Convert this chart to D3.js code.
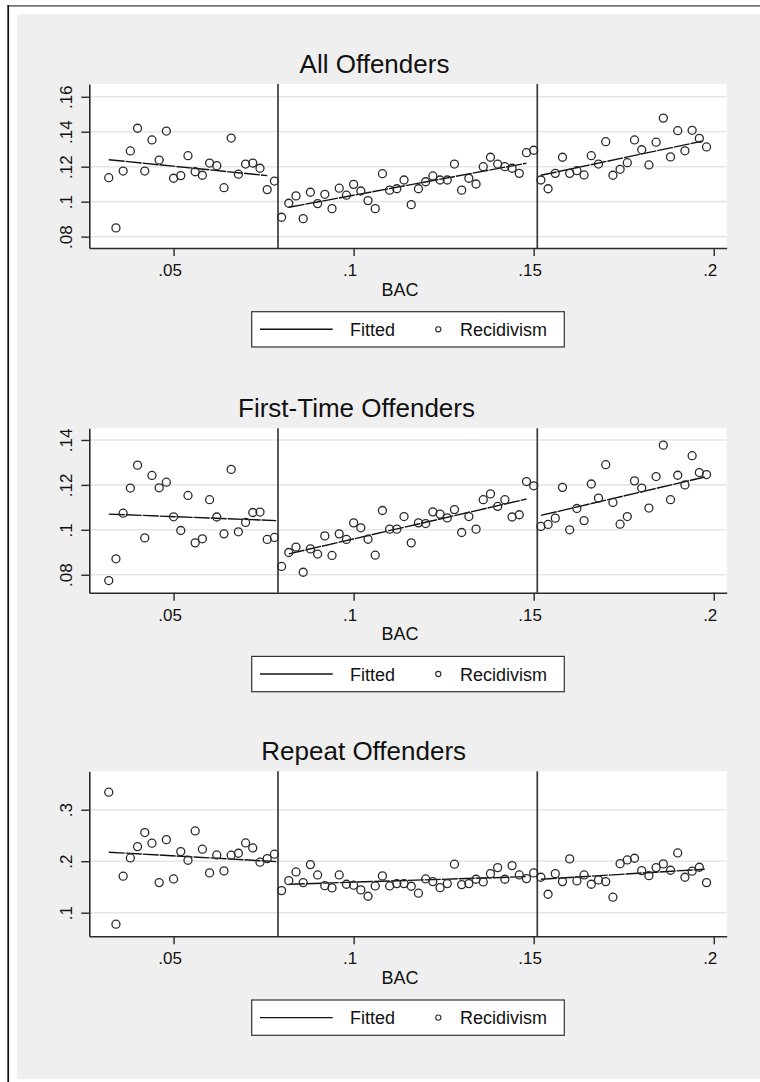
<!DOCTYPE html>
<html>
<head>
<meta charset="utf-8">
<script src="https://cdn.jsdelivr.net/npm/d3@7"></script>
<style>
  html, body { margin: 0; padding: 0; background: #ffffff; }
  svg { display: block; font-family: "Liberation Sans", Arial, Helvetica, sans-serif; }
</style>
</head>
<body>
<svg id="chart" width="760" height="1082"></svg>
<script>
// BAC bins (0.002 wide) shared by all three panels
const bac = [
  0.032, 0.034, 0.036, 0.038, 0.040, 0.042, 0.044, 0.046, 0.048, 0.050, 0.052, 0.054,
  0.056, 0.058, 0.060, 0.062, 0.064, 0.066, 0.068, 0.070, 0.072, 0.074, 0.076, 0.078,
  0.080, 0.082, 0.084, 0.086, 0.088, 0.090, 0.092, 0.094, 0.096, 0.098, 0.100, 0.102,
  0.104, 0.106, 0.108, 0.110, 0.112, 0.114, 0.116, 0.118, 0.120, 0.122, 0.124, 0.126,
  0.128, 0.130, 0.132, 0.134, 0.136, 0.138, 0.140, 0.142, 0.144, 0.146, 0.148, 0.150,
  0.152, 0.154, 0.156, 0.158, 0.160, 0.162, 0.164, 0.166, 0.168, 0.170, 0.172, 0.174,
  0.176, 0.178, 0.180, 0.182, 0.184, 0.186, 0.188, 0.190, 0.192, 0.194, 0.196, 0.198
];

const panelTitles = ["All Offenders", "First-Time Offenders", "Repeat Offenders"];

// Recidivism rate by BAC bin
const recidAll = [
  0.1137, 0.0850, 0.1175, 0.1290, 0.1420, 0.1175, 0.1353, 0.1238, 0.1404, 0.1134, 0.1149, 0.1263,
  0.1171, 0.1151, 0.1221, 0.1206, 0.1080, 0.1364, 0.1157, 0.1215, 0.1221, 0.1191, 0.1069, 0.1118,
  0.0911, 0.0991, 0.1033, 0.0903, 0.1054, 0.0989, 0.1042, 0.0960, 0.1077, 0.1037, 0.1099, 0.1061,
  0.1006, 0.0960, 0.1160, 0.1066, 0.1074, 0.1124, 0.0983, 0.1074, 0.1114, 0.1147, 0.1124, 0.1124,
  0.1215, 0.1066, 0.1134, 0.1101, 0.1200, 0.1254, 0.1215, 0.1200, 0.1191, 0.1162, 0.1280, 0.1294,
  0.1124, 0.1074, 0.1162, 0.1254, 0.1162, 0.1177, 0.1153, 0.1263, 0.1215, 0.1343, 0.1151, 0.1185,
  0.1223, 0.1353, 0.1297, 0.1210, 0.1340, 0.1478, 0.1256, 0.1406, 0.1291, 0.1408, 0.1362, 0.1313
];

const recidFirst = [
  0.0774, 0.0871, 0.1074, 0.1186, 0.1288, 0.0964, 0.1242, 0.1187, 0.1212, 0.1058, 0.0997, 0.1153,
  0.0942, 0.0960, 0.1134, 0.1057, 0.0982, 0.1269, 0.0991, 0.1033, 0.1077, 0.1079, 0.0957, 0.0966,
  0.0837, 0.0899, 0.0923, 0.0811, 0.0915, 0.0892, 0.0973, 0.0886, 0.0982, 0.0957, 0.1031, 0.1009,
  0.0958, 0.0887, 0.1086, 0.1003, 0.1003, 0.1059, 0.0942, 0.1031, 0.1028, 0.1080, 0.1070, 0.1053,
  0.1090, 0.0988, 0.1059, 0.1003, 0.1134, 0.1160, 0.1104, 0.1134, 0.1057, 0.1067, 0.1215, 0.1196,
  0.1015, 0.1024, 0.1052, 0.1189, 0.1000, 0.1095, 0.1041, 0.1204, 0.1141, 0.1290, 0.1122, 0.1025,
  0.1059, 0.1218, 0.1186, 0.1097, 0.1237, 0.1377, 0.1134, 0.1243, 0.1200, 0.1330, 0.1255, 0.1246
];

const recidRepeat = [
  0.3340, 0.0777, 0.1709, 0.2064, 0.2284, 0.2556, 0.2350, 0.1585, 0.2419, 0.1656, 0.2187, 0.2019,
  0.2588, 0.2233, 0.1773, 0.2122, 0.1812, 0.2117, 0.2155, 0.2355, 0.2258, 0.1981, 0.2050, 0.2136,
  0.1429, 0.1623, 0.1792, 0.1585, 0.1934, 0.1734, 0.1526, 0.1482, 0.1734, 0.1553, 0.1534, 0.1443,
  0.1320, 0.1520, 0.1715, 0.1520, 0.1565, 0.1565, 0.1514, 0.1379, 0.1656, 0.1604, 0.1487, 0.1565,
  0.1942, 0.1546, 0.1565, 0.1650, 0.1598, 0.1759, 0.1876, 0.1650, 0.1915, 0.1734, 0.1662, 0.1773,
  0.1689, 0.1359, 0.1759, 0.1604, 0.2045, 0.1617, 0.1734, 0.1553, 0.1637, 0.1604, 0.1301, 0.1953,
  0.2025, 0.2058, 0.1817, 0.1720, 0.1876, 0.1948, 0.1825, 0.2161, 0.1689, 0.1806, 0.1883, 0.1585
];

// Fitted lines: [bac start, fitted start, bac end, fitted end] per segment
const fitAll = [
  [0.032, 0.1240, 0.076, 0.1149],
  [0.082, 0.0968, 0.148, 0.1220],
  [0.152, 0.1151, 0.197, 0.1347]
];
const fitFirst = [
  [0.032, 0.1070, 0.0785, 0.1041],
  [0.082, 0.0893, 0.148, 0.1137],
  [0.152, 0.1064, 0.1975, 0.1235]
];
const fitRepeat = [
  [0.032, 0.2175, 0.0785, 0.1993],
  [0.082, 0.1553, 0.148, 0.1701],
  [0.152, 0.1650, 0.1975, 0.1845]
];

// BAC thresholds marked with vertical lines
const cutoffs = [0.079, 0.151];

// Axis ticks and labels
const xTicks = [0.05, 0.10, 0.15, 0.20];
const xTickLabels = [".05", ".1", ".15", ".2"];
const yTicksAll = [0.08, 0.10, 0.12, 0.14, 0.16];
const yTickLabelsAll = [".08", ".1", ".12", ".14", ".16"];
const yTicksFirst = [0.08, 0.10, 0.12, 0.14];
const yTickLabelsFirst = [".08", ".1", ".12", ".14"];
const yTicksRepeat = [0.1, 0.2, 0.3];
const yTickLabelsRepeat = [".1", ".2", ".3"];

const xDomain = [0.0266, 0.2036];
const yDomainAll = [0.0735, 0.1673];
const yDomainFirst = [0.0720, 0.1452];
const yDomainRepeat = [0.0542, 0.3746];

const xLabel = "BAC";
const legendLabels = ["Fitted", "Recidivism"];

// ---- layout ----
const plotLeft = 89.3, plotRight = 726.7;
const panels = [
  { title: panelTitles[0], values: recidAll, fits: fitAll, yDomain: yDomainAll,
    yTicks: yTicksAll, yTickLabels: yTickLabelsAll, top: 84, bottom: 248, titleX: 374.5 },
  { title: panelTitles[1], values: recidFirst, fits: fitFirst, yDomain: yDomainFirst,
    yTicks: yTicksFirst, yTickLabels: yTickLabelsFirst, top: 428.3, bottom: 592.7, titleX: 356.5 },
  { title: panelTitles[2], values: recidRepeat, fits: fitRepeat, yDomain: yDomainRepeat,
    yTicks: yTicksRepeat, yTickLabels: yTickLabelsRepeat, top: 771.3, bottom: 936.3, titleX: 363.7 }
];

const ink = "#2a2a2a";
const svg = d3.select("#chart");

// outer frame and graph background
svg.append("rect").attr("x", 17).attr("y", 14).attr("width", 743).attr("height", 1065)
  .attr("fill", "#efefef");
svg.append("line").attr("x1", 7.5).attr("x2", 760).attr("y1", 5.8).attr("y2", 5.8)
  .attr("stroke", "#777").attr("stroke-width", 1.7);
svg.append("line").attr("x1", 8.2).attr("x2", 8.2).attr("y1", 5).attr("y2", 1082)
  .attr("stroke", "#111").attr("stroke-width", 1.7);

const x = d3.scaleLinear().domain(xDomain).range([plotLeft, plotRight]);

panels.forEach(p => {
  const y = d3.scaleLinear().domain(p.yDomain).range([p.bottom, p.top]);
  const g = svg.append("g");

  // plot region
  g.append("rect").attr("x", plotLeft).attr("y", p.top)
    .attr("width", plotRight - plotLeft).attr("height", p.bottom - p.top)
    .attr("fill", "#ffffff");

  // horizontal grid
  g.selectAll("line.grid").data(p.yTicks).join("line")
    .attr("class", "grid")
    .attr("x1", plotLeft).attr("x2", plotRight)
    .attr("y1", d => y(d)).attr("y2", d => y(d))
    .attr("stroke", "#e6e6e6").attr("stroke-width", 1.6);

  // threshold lines
  g.selectAll("line.cut").data(cutoffs).join("line")
    .attr("class", "cut")
    .attr("x1", d => x(d)).attr("x2", d => x(d))
    .attr("y1", p.top).attr("y2", p.bottom)
    .attr("stroke", "#3a3a3a").attr("stroke-width", 1.7);

  // fitted segments
  const line = d3.line().x(d => x(d[0])).y(d => y(d[1]));
  g.selectAll("path.fit").data(p.fits).join("path")
    .attr("class", "fit")
    .attr("d", f => line([[f[0], f[1]], [f[2], f[3]]]))
    .attr("fill", "none").attr("stroke", "#111")
    .attr("stroke-width", 1.4).attr("stroke-dasharray", "16,1");

  // binned recidivism markers
  g.selectAll("circle.pt").data(p.values).join("circle")
    .attr("class", "pt")
    .attr("cx", (d, i) => x(bac[i])).attr("cy", d => y(d))
    .attr("r", 4.0).attr("fill", "none")
    .attr("stroke", ink).attr("stroke-width", 1.3);

  // x axis
  const xAxis = d3.axisBottom(x).tickValues(xTicks)
    .tickFormat((d, i) => xTickLabels[i]).tickSize(8).tickSizeOuter(0);
  const gx = g.append("g").attr("transform", `translate(0,${p.bottom})`).call(xAxis);
  gx.select(".domain").attr("stroke", ink).attr("stroke-width", 1.6);
  gx.selectAll(".tick line").attr("stroke", ink).attr("stroke-width", 1.4);
  gx.selectAll(".tick text")
    .attr("y", 28.2).attr("dy", null).attr("x", -4)
    .attr("fill", "#111").attr("font-size", 17)
    .attr("font-family", "Liberation Sans, Arial, sans-serif");

  // y axis
  const yAxis = d3.axisLeft(y).tickValues(p.yTicks)
    .tickFormat((d, i) => p.yTickLabels[i]).tickSize(8).tickSizeOuter(0);
  const gy = g.append("g").attr("transform", `translate(${plotLeft},0)`).call(yAxis);
  gy.select(".domain").attr("stroke", ink).attr("stroke-width", 1.6);
  gy.selectAll(".tick line").attr("stroke", ink).attr("stroke-width", 1.4);
  gy.selectAll(".tick text")
    .attr("x", null).attr("dy", null)
    .attr("text-anchor", "middle")
    .attr("transform", "translate(-17.6,0) rotate(-90)")
    .attr("fill", "#111").attr("font-size", 17)
    .attr("font-family", "Liberation Sans, Arial, sans-serif");

  // panel title
  g.append("text").attr("x", p.titleX).attr("y", p.top - 11.2)
    .attr("text-anchor", "middle").attr("font-size", 26).attr("fill", "#111")
    .text(p.title);

  // x axis title
  g.append("text").attr("x", 400).attr("y", p.bottom + 47.7)
    .attr("text-anchor", "middle").attr("font-size", 18).attr("fill", "#111")
    .text(xLabel);

  // legend
  const ly = p.bottom + 63.7;
  const lg = g.append("g");
  lg.append("rect").attr("x", 251.7).attr("y", ly).attr("width", 312.6).attr("height", 35.3)
    .attr("fill", "#ffffff").attr("stroke", "#333").attr("stroke-width", 1.2);
  lg.append("line").attr("x1", 260).attr("x2", 332.7)
    .attr("y1", ly + 17.6).attr("y2", ly + 17.6)
    .attr("stroke", "#111").attr("stroke-width", 1.4);
  lg.append("text").attr("x", 350).attr("y", ly + 24.3)
    .attr("font-size", 18).attr("fill", "#111").text(legendLabels[0]);
  lg.append("circle").attr("cx", 438.3).attr("cy", ly + 17.6).attr("r", 2.6)
    .attr("fill", "none").attr("stroke", ink).attr("stroke-width", 1.1);
  lg.append("text").attr("x", 460).attr("y", ly + 24.3)
    .attr("font-size", 18).attr("fill", "#111").text(legendLabels[1]);
});
</script>
</body>
</html>
